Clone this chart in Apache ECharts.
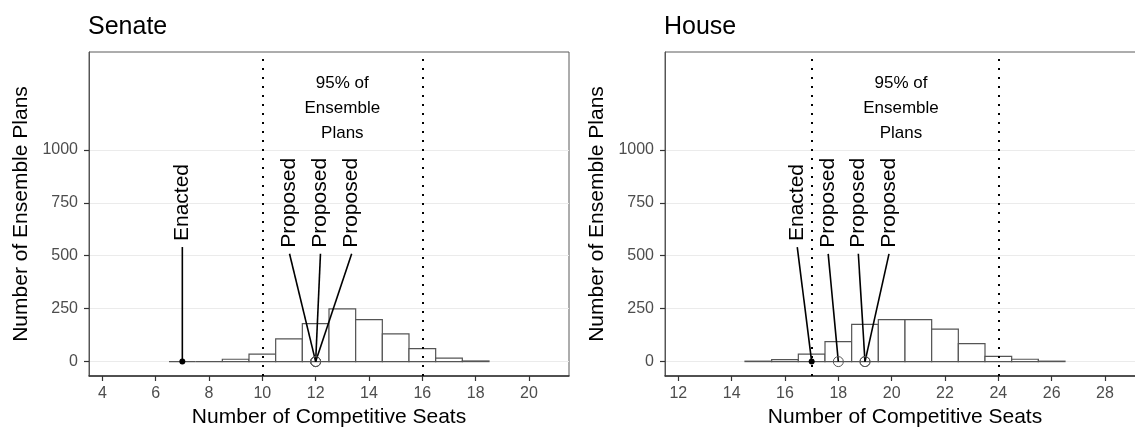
<!DOCTYPE html>
<html>
<head>
<meta charset="utf-8">
<script src="https://cdn.jsdelivr.net/npm/echarts@6/dist/echarts.min.js"></script>
<style>
  html, body { margin: 0; padding: 0; background: #fff; }
  #chart { width: 1135px; height: 427px; }
</style>
</head>
<body>
<div id="chart"></div>
<script>
// Histogram of competitive seats across the ensemble of plans
const senateSeats = [7, 8, 9, 10, 11, 12, 13, 14, 15, 16, 17, 18];
const senateCounts = [0, 0, 11, 35, 107, 179, 249, 198, 131, 61, 16, 3];
const houseSeats = [15, 16, 17, 18, 19, 20, 21, 22, 23, 24, 25, 26];
const houseCounts = [2, 9, 35, 94, 176, 198, 198, 153, 85, 25, 11, 2];

// 95% interval of the ensemble
const senateInterval = [10, 16];
const houseInterval = [17, 24];

// Enacted and proposed plans
const senateEnacted = 7;
const senateProposed = [12, 12, 12];
const houseEnacted = 17;
const houseProposed = [18, 19, 19];

// Tick labels
const senateTicks = [4, 6, 8, 10, 12, 14, 16, 18, 20];
const houseTicks = [12, 14, 16, 18, 20, 22, 24, 26, 28];
const countTicks = [0, 250, 500, 750, 1000];

// Where the plan labels and interval notes sit (axis units)
const senateLabelAt = { enacted: [7.0, 541], proposed: [[11.02, 509], [12.18, 509], [13.35, 509]] };
const houseLabelAt = { enacted: [16.46, 541], proposed: [[17.62, 509], [18.75, 509], [19.9, 509]] };
const senateNoteAt = [13, 1195];
const houseNoteAt = [20.35, 1195];

const FONT = '"Liberation Sans", Arial, sans-serif';
const chart = echarts.init(document.getElementById('chart'), null, { renderer: 'canvas' });

function barItem(seats, counts) {
  return function (params, api) {
    const x = seats[params.dataIndex];
    const c = counts[params.dataIndex];
    const p0 = api.coord([x - 0.5, c]);
    const p1 = api.coord([x + 0.5, 0]);
    return {
      type: 'rect',
      shape: { x: p0[0], y: p0[1], width: p1[0] - p0[0], height: p1[1] - p0[1] },
      style: { fill: '#fff', stroke: '#555', lineWidth: 1.2 }
    };
  };
}

function planMarks(enacted, proposed, layout) {
  const marks = [{ x: enacted, at: layout.enacted, text: 'Enacted', kind: 0 }];
  proposed.forEach((v, i) => marks.push({ x: v, at: layout.proposed[i], text: 'Proposed', kind: 1 }));
  return marks;
}

function markItem(marks) {
  return function (params, api) {
    const m = marks[params.dataIndex];
    const p = api.coord([m.x, 0]);
    const t = api.coord(m.at);
    return {
      type: 'group',
      children: [
        { type: 'line', shape: { x1: t[0], y1: t[1], x2: p[0], y2: p[1] },
          style: { stroke: '#000', lineWidth: 1.6 } },
        { type: 'text', x: t[0], y: t[1] - 6, rotation: Math.PI / 2,
          style: { text: m.text, fontSize: 21, fontFamily: FONT, fill: '#000',
                   align: 'left', verticalAlign: 'middle' } },
        m.kind === 0
          ? { type: 'circle', shape: { cx: p[0], cy: p[1], r: 3 }, style: { fill: '#000' } }
          : { type: 'circle', shape: { cx: p[0], cy: p[1], r: 5 },
              style: { fill: 'none', stroke: '#555', lineWidth: 1 } }
      ]
    };
  };
}

function noteItem(at) {
  return function (params, api) {
    const c = api.coord(at);
    return {
      type: 'text', x: c[0], y: c[1],
      style: { text: '95% of\nEnsemble\nPlans', fontSize: 17, lineHeight: 25, fontFamily: FONT,
               fill: '#000', align: 'center', verticalAlign: 'middle' }
    };
  };
}

function xAxis(idx, min, max, ticks) {
  return {
    type: 'value', gridIndex: idx, min: min, max: max,
    name: 'Number of Competitive Seats', nameLocation: 'middle', nameGap: 31,
    nameTextStyle: { fontSize: 21, fontFamily: FONT, color: '#000' },
    axisLine: { show: true, onZero: false, lineStyle: { color: '#333', width: 1.5 } },
    axisTick: { show: true, length: 5, customValues: ticks, lineStyle: { color: '#333', width: 1.2 } },
    axisLabel: { customValues: ticks, fontSize: 16, fontFamily: FONT, color: '#4d4d4d', margin: 10,
                 formatter: v => String(v) },
    splitLine: { show: false }
  };
}

function yAxis(idx) {
  return {
    type: 'value', gridIndex: idx, min: -68, max: 1462,
    name: 'Number of Ensemble Plans', nameLocation: 'middle', nameGap: 57,
    nameTextStyle: { fontSize: 21, fontFamily: FONT, color: '#000' },
    axisLine: { show: true, lineStyle: { color: '#555', width: 1 } },
    axisTick: { show: true, length: 5, customValues: countTicks, lineStyle: { color: '#333', width: 1.2 } },
    axisLabel: { customValues: countTicks, fontSize: 16, fontFamily: FONT, color: '#4d4d4d', margin: 11,
                 formatter: v => String(v) },
    splitLine: { show: true, lineStyle: { color: '#ebebeb', width: 1 } }
  };
}

function intervalLines(interval) {
  return {
    silent: true, symbol: 'none', label: { show: false },
    lineStyle: { type: [2, 7], color: '#000', width: 2 },
    data: interval.map(v => ({ xAxis: v }))
  };
}

const senateMarks = planMarks(senateEnacted, senateProposed, senateLabelAt);
const houseMarks = planMarks(houseEnacted, houseProposed, houseLabelAt);

chart.setOption({
  animation: false,
  title: [
    { text: 'Senate', left: 88, top: 15, padding: 0,
      textStyle: { fontSize: 25, fontWeight: 'normal', fontFamily: FONT, color: '#000' } },
    { text: 'House', left: 664, top: 15, padding: 0,
      textStyle: { fontSize: 25, fontWeight: 'normal', fontFamily: FONT, color: '#000' } }
  ],
  grid: [
    { left: 89, top: 52, width: 480, height: 324, show: true, borderColor: '#5a5a5a', borderWidth: 1,
      outerBoundsMode: 'none', containLabel: false },
    { left: 665, top: 52, width: 480, height: 324, show: true, borderColor: '#5a5a5a', borderWidth: 1,
      outerBoundsMode: 'none', containLabel: false }
  ],
  xAxis: [xAxis(0, 3.5, 21.5, senateTicks), xAxis(1, 11.5, 29.5, houseTicks)],
  yAxis: [yAxis(0), yAxis(1)],
  series: [
    { type: 'custom', xAxisIndex: 0, yAxisIndex: 0, renderItem: barItem(senateSeats, senateCounts),
      data: senateSeats.map((s, i) => [s, senateCounts[i]]), markLine: intervalLines(senateInterval), z: 2 },
    { type: 'custom', xAxisIndex: 1, yAxisIndex: 1, renderItem: barItem(houseSeats, houseCounts),
      data: houseSeats.map((s, i) => [s, houseCounts[i]]), markLine: intervalLines(houseInterval), z: 2 },
    { type: 'custom', xAxisIndex: 0, yAxisIndex: 0, renderItem: markItem(senateMarks),
      data: senateMarks.map(m => [m.x, 0]), z: 4 },
    { type: 'custom', xAxisIndex: 1, yAxisIndex: 1, renderItem: markItem(houseMarks),
      data: houseMarks.map(m => [m.x, 0]), z: 4 },
    { type: 'custom', xAxisIndex: 0, yAxisIndex: 0, renderItem: noteItem(senateNoteAt),
      data: [senateNoteAt], z: 4 },
    { type: 'custom', xAxisIndex: 1, yAxisIndex: 1, renderItem: noteItem(houseNoteAt),
      data: [houseNoteAt], z: 4 }
  ]
});
</script>
</body>
</html>
